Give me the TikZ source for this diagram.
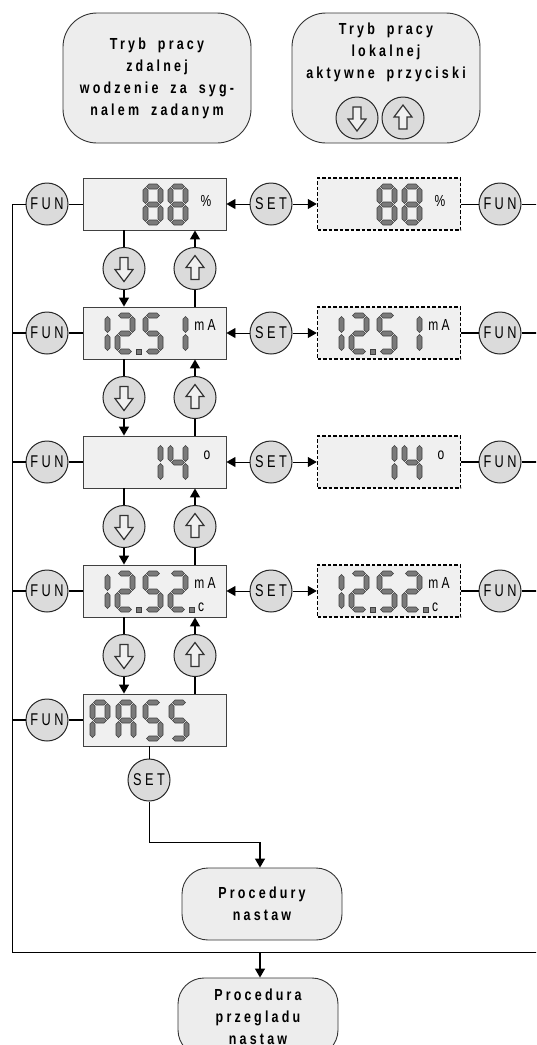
\documentclass[tikz,border=0pt]{standalone}
\usepackage{fontspec}
\usepackage{tikz}
\usetikzlibrary{arrows.meta}

\newfontfamily\etiq[FakeStretch=0.78,LetterSpace=20]{Liberation Sans}
\newfontfamily\klaw[FakeStretch=0.75,LetterSpace=20]{Liberation Sans}
\newcommand{\etiqfont}{\etiq\bfseries\fontsize{16}{22}\selectfont\setlength{\spaceskip}{12pt}}

% Segments de l'afficheur (cellule 20 x 41)
\newcommand{\sgA}{\path[segment] (3.5,2.5) -- (6,0) -- (14,0) -- (16.5,2.5) -- (14,5) -- (6,5) -- cycle;}
\newcommand{\sgB}{\path[segment] (17.5,3.5) -- (20,6) -- (20,17) -- (17.5,19.5) -- (15,17) -- (15,6) -- cycle;}
\newcommand{\sgC}{\path[segment] (17.5,21.5) -- (20,24) -- (20,35) -- (17.5,37.5) -- (15,35) -- (15,24) -- cycle;}
\newcommand{\sgD}{\path[segment] (3.5,38.5) -- (6,36) -- (14,36) -- (16.5,38.5) -- (14,41) -- (6,41) -- cycle;}
\newcommand{\sgE}{\path[segment] (2.5,21.5) -- (5,24) -- (5,35) -- (2.5,37.5) -- (0,35) -- (0,24) -- cycle;}
\newcommand{\sgF}{\path[segment] (2.5,3.5) -- (5,6) -- (5,17) -- (2.5,19.5) -- (0,17) -- (0,6) -- cycle;}
\newcommand{\sgG}{\path[segment] (3.5,20.5) -- (6,18) -- (14,18) -- (16.5,20.5) -- (14,23) -- (6,23) -- cycle;}
\newcommand{\sgP}{\path[segment] (21,36) rectangle (26,41);}
\newcommand{\chiffre}[3]{\begin{scope}[shift={(#1,#2)}]\foreach \s in {#3}{\csname sg\s\endcsname}\end{scope}}

\tikzset{
  bloc/.style={draw=black!80, fill=black!7, rounded corners=34pt, line width=0.9pt,
    align=center, font=\etiqfont},
  tekst/.style={align=center, inner sep=0pt, font=\etiqfont},
  afficheur/.style={draw=black!75, fill=black!6, minimum width=143pt, minimum height=52pt, line width=0.9pt},
  afficheurpt/.style={afficheur, draw=black, line width=1.5pt, dash pattern=on 3.5pt off 2pt},
  touche/.style={circle, draw=black!85, fill=black!14, minimum size=42pt, inner sep=0pt,
    line width=1pt, font=\klaw\fontsize{17}{17}\selectfont},
  jedn/.style={inner sep=0pt, font=\klaw\fontsize{16}{16}\selectfont},
  segment/.style={fill=black!52, draw=black!75, line width=0.6pt},
  ikona/.style={draw=black!80, fill=black!6, line width=1.2pt},
  lien/.style={line width=1.4pt},
  cienka/.style={line width=0.9pt},
  fleche/.style={line width=1.4pt, -{Triangle[length=9pt,width=10pt]}},
  flechec/.style={line width=0.9pt, -{Triangle[length=9pt,width=10pt]}},
  dol/.pic={\path[ikona] (-4,-11) -- (4,-11) -- (4,1) -- (9,1) -- (0,13) -- (-9,1) -- (-4,1) -- cycle;},
  gora/.pic={\path[ikona] (-4,11) -- (4,11) -- (4,-1) -- (9,-1) -- (0,-13) -- (-9,-1) -- (-4,-1) -- cycle;},
}

\begin{document}
\begin{tikzpicture}[x=1pt,y=-1pt]
  \useasboundingbox (0,0) rectangle (536,1045);
  \clip (0,0) rectangle (536,1045);

  % Blocs du haut
  \node[bloc, minimum width=188pt, minimum height=130pt] (zdal) at (157,78)
    {Tryb pracy\\zdalnej\\wodzenie za syg-\\nalem zadanym};
  \node[bloc, minimum width=188pt, minimum height=130pt] (lokal) at (386,78) {};
  \node[tekst] (lokaltxt) at (386,52) {Tryb pracy\\lokalnej\\aktywne przyciski};
  \node[touche] (ldol) at (357,118) {};
  \pic at (ldol) {dol};
  \node[touche] (lgora) at (403,118) {};
  \pic at (lgora) {gora};

  % Coins du cadre
  \coordinate (rog) at (12,952);
  \coordinate (prawy) at (545,952);

  % Ligne 1 : 88 %
  \node[afficheur] (a1) at (154.5,204) {};
  \chiffre{143}{184}{A,B,C,D,E,F,G}
  \chiffre{168}{184}{A,B,C,D,E,F,G}
  \node[jedn] (u1) at (206,201) {\%};
  \node[afficheurpt] (p1) at (389,204) {};
  \chiffre{377}{184}{A,B,C,D,E,F,G}
  \chiffre{402}{184}{A,B,C,D,E,F,G}
  \node[jedn] (v1) at (440,201) {\%};
  \node[touche] (fl1) at (47,204) {FUN};
  \node[touche] (s1) at (271,204) {SET};
  \node[touche] (fp1) at (500,204) {FUN};
  \draw[cienka] (fl1) -- (a1);
  \draw[flechec] (s1) -- (a1);
  \draw[flechec] (s1) -- (p1);
  \draw[cienka] (p1) -- (fp1);
  \draw[cienka] (fp1) -| (prawy);
  \draw[cienka] (fl1) -| (rog) -- (prawy);

  % Ligne 2 : 12.5 1 mA
  \node[afficheur] (a2) at (154.5,333) {};
  \chiffre{90}{313}{B,C}
  \chiffre{115}{313}{A,B,G,E,D,P}
  \chiffre{143}{313}{A,F,G,C,D}
  \chiffre{168}{313}{B,C}
  \node[jedn] (u2) at (205,325) {mA};
  \node[afficheurpt] (p2) at (389,333) {};
  \chiffre{324}{313}{B,C}
  \chiffre{349}{313}{A,B,G,E,D,P}
  \chiffre{377}{313}{A,F,G,C,D}
  \chiffre{402}{313}{B,C}
  \node[jedn] (v2) at (439,325) {mA};
  \node[touche] (fl2) at (47,333) {FUN};
  \node[touche] (s2) at (271,333) {SET};
  \node[touche] (fp2) at (500,333) {FUN};
  \draw[lien] (fl2) -- (a2);
  \draw[lien] (fl2) -- (fl2 -| rog);
  \draw[flechec] (s2) -- (a2);
  \draw[flechec] (s2) -- (p2);
  \draw[lien] (p2) -- (fp2);
  \draw[lien] (fp2) -- (fp2 -| prawy);

  % Ligne 3 : 14 o
  \node[afficheur] (a3) at (154.5,462) {};
  \chiffre{143}{442}{B,C}
  \chiffre{168}{442}{F,G,B,C}
  \node[jedn] (u3) at (207,455) {o};
  \node[afficheurpt] (p3) at (389,462) {};
  \chiffre{377}{442}{B,C}
  \chiffre{402}{442}{F,G,B,C}
  \node[jedn] (v3) at (441,455) {o};
  \node[touche] (fl3) at (47,462) {FUN};
  \node[touche] (s3) at (271,462) {SET};
  \node[touche] (fp3) at (500,462) {FUN};
  \draw[lien] (fl3) -- (a3);
  \draw[lien] (fl3) -- (fl3 -| rog);
  \draw[flechec] (s3) -- (a3);
  \draw[flechec] (s3) -- (p3);
  \draw[lien] (p3) -- (fp3);
  \draw[lien] (fp3) -- (fp3 -| prawy);

  % Ligne 4 : 12.52 mA c
  \node[afficheur] (a4) at (154.5,591) {};
  \chiffre{90}{571}{B,C}
  \chiffre{115}{571}{A,B,G,E,D,P}
  \chiffre{143}{571}{A,F,G,C,D}
  \chiffre{168}{571}{A,B,G,E,D,P}
  \node[jedn] (u4) at (205,583) {mA};
  \node[jedn] (c4) at (201,607) {c};
  \node[afficheurpt] (p4) at (389,591) {};
  \chiffre{324}{571}{B,C}
  \chiffre{349}{571}{A,B,G,E,D,P}
  \chiffre{377}{571}{A,F,G,C,D}
  \chiffre{402}{571}{A,B,G,E,D,P}
  \node[jedn] (v4) at (439,583) {mA};
  \node[jedn] (cc4) at (435,607) {c};
  \node[touche] (fl4) at (47,591) {FUN};
  \node[touche] (s4) at (271,591) {SET};
  \node[touche] (fp4) at (500,591) {FUN};
  \draw[lien] (fl4) -- (a4);
  \draw[lien] (fl4) -- (fl4 -| rog);
  \draw[flechec] (s4) -- (a4);
  \draw[flechec] (s4) -- (p4);
  \draw[lien] (p4) -- (fp4);
  \draw[lien] (fp4) -- (fp4 -| prawy);

  % Ligne 5 : PASS
  \node[afficheur] (a5) at (154.5,720) {};
  \chiffre{90}{700}{A,B,E,F,G}
  \chiffre{116}{700}{A,B,C,E,F,G}
  \chiffre{143}{700}{A,F,G,C,D}
  \chiffre{169}{700}{A,F,G,C,D}
  \node[touche] (fl5) at (47,720) {FUN};
  \draw[lien] (fl5) -- (a5);
  \draw[lien] (fl5) -- (fl5 -| rog);

  % Touches entre les lignes
  \node[touche] (d1) at (124,268.5) {};  \pic at (d1) {dol};
  \node[touche] (g1) at (195,268.5) {};  \pic at (g1) {gora};
  \node[touche] (d2) at (124,397.5) {};  \pic at (d2) {dol};
  \node[touche] (g2) at (195,397.5) {};  \pic at (g2) {gora};
  \node[touche] (d3) at (124,526.5) {};  \pic at (d3) {dol};
  \node[touche] (g3) at (195,526.5) {};  \pic at (g3) {gora};
  \node[touche] (d4) at (124,655.5) {};  \pic at (d4) {dol};
  \node[touche] (g4) at (195,655.5) {};  \pic at (g4) {gora};
  \draw[lien] (a1.south -| d1) -- (d1);  \draw[fleche] (d1) -- (d1 |- a2.north);
  \draw[lien] (a2.north -| g1) -- (g1);  \draw[fleche] (g1) -- (g1 |- a1.south);
  \draw[lien] (a2.south -| d2) -- (d2);  \draw[fleche] (d2) -- (d2 |- a3.north);
  \draw[lien] (a3.north -| g2) -- (g2);  \draw[fleche] (g2) -- (g2 |- a2.south);
  \draw[lien] (a3.south -| d3) -- (d3);  \draw[fleche] (d3) -- (d3 |- a4.north);
  \draw[lien] (a4.north -| g3) -- (g3);  \draw[fleche] (g3) -- (g3 |- a3.south);
  \draw[lien] (a4.south -| d4) -- (d4);  \draw[fleche] (d4) -- (d4 |- a5.north);
  \draw[lien] (a5.north -| g4) -- (g4);  \draw[fleche] (g4) -- (g4 |- a4.south);

  % Procedures du bas
  \node[touche] (s5) at (149,780) {SET};
  \draw[cienka] (a5.south -| s5) -- (s5);
  \node[bloc, minimum width=160pt, minimum height=72pt, rounded corners=26pt] (proc1) at (262,904) {Procedury\\nastaw};
  \coordinate (zakret) at (149,842);
  \coordinate (wejscie) at (260,842);
  \draw[cienka] (s5) -- (zakret) -- (wejscie);
  \draw[fleche] (wejscie) -- (wejscie |- proc1.north);
  \node[bloc, minimum width=160pt, minimum height=78pt, rounded corners=26pt] (proc2) at (258,1017) {Procedura\\przegladu\\nastaw};
  \coordinate (rozg) at (260,952);
  \draw[fleche] (rozg) -- (rozg |- proc2.north);
\end{tikzpicture}
\end{document}
